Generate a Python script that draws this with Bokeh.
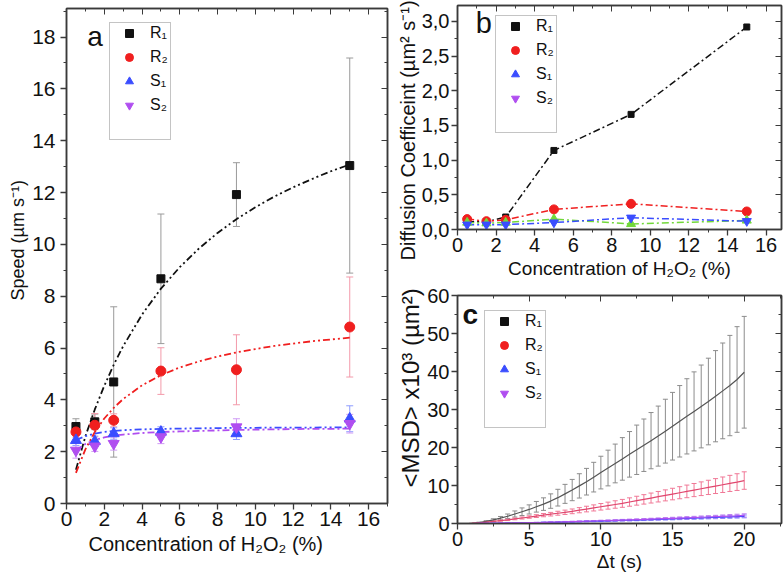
from bokeh.plotting import figure
from bokeh.models import (ColumnDataSource, Whisker, TeeHead, Legend, LegendItem, LinearAxis,
                          SingleIntervalTicker, Range1d, Label, Title, CustomJSTickFormatter)
from bokeh.layouts import row, column
from bokeh.embed import file_html
from bokeh.resources import INLINE

FONT = "Liberation Sans"
NAN = float("nan")

# ---------------- data: panel a (speed) ----------------
conc = [0.5, 1.5, 2.5, 5, 9, 15]
speed_R1 = [2.97, 3.15, 4.69, 8.67, 11.92, 13.04]
speed_R1_err = [0.30, 0.30, 2.90, 2.50, 1.23, 4.15]
speed_R2 = [2.76, 3.02, 3.21, 5.11, 5.16, 6.81]
speed_R2_err = [0.20, 0.45, 0.25, 0.90, 1.35, 1.93]
speed_S1 = [2.44, 2.40, 2.70, 2.76, 2.70, 3.27]
speed_S1_err = [0.20, 0.20, 0.22, 0.20, 0.23, 0.50]
speed_S2 = [2.05, 2.21, 2.31, 2.57, 2.95, 3.08]
speed_S2_err = [0.30, 0.20, 0.25, 0.26, 0.32, 0.36]

fit_x = [0.5, 1, 1.5, 2, 2.5, 3, 4, 5, 6, 7, 8, 9, 10, 11, 12, 13, 14, 15]
fit_R1 = [1.30, 2.59, 3.63, 4.54, 5.35, 6.07, 7.29, 8.29, 9.12, 9.83, 10.44, 10.97, 11.43, 11.84, 12.20, 12.52, 12.82, 13.08]
fit_R2 = [1.18, 2.09, 2.76, 3.28, 3.69, 4.03, 4.56, 4.95, 5.25, 5.48, 5.67, 5.83, 5.96, 6.08, 6.17, 6.26, 6.33, 6.40]
fit_S1 = [2.45, 2.60, 2.70, 2.76, 2.80, 2.83, 2.86, 2.88, 2.89, 2.90, 2.91, 2.92, 2.92, 2.93, 2.93, 2.93, 2.94, 2.94]
fit_S2 = [2.05, 2.30, 2.45, 2.55, 2.62, 2.66, 2.72, 2.76, 2.78, 2.80, 2.82, 2.84, 2.85, 2.86, 2.87, 2.88, 2.88, 2.89]

# ---------------- data: panel b (diffusion coefficient) ----------------
diff_R1 = [0.11, 0.11, 0.18, 1.14, 1.66, 2.92]
diff_R2 = [0.15, 0.12, 0.14, 0.29, 0.37, 0.26]
diff_S1 = [0.10, 0.09, 0.10, 0.15, 0.08, 0.13]
diff_S2 = [0.07, 0.07, 0.07, 0.10, 0.17, 0.12]

# ---------------- data: panel c (MSD) ----------------
msd_t = [0.5, 1.0, 1.5, 2.0, 2.5, 3.0, 3.5, 4.0, 4.5, 5.0,
         5.5, 6.0, 6.5, 7.0, 7.5, 8.0, 8.5, 9.0, 9.5, 10.0,
         10.5, 11.0, 11.5, 12.0, 12.5, 13.0, 13.5, 14.0, 14.5, 15.0,
         15.5, 16.0, 16.5, 17.0, 17.5, 18.0, 18.5, 19.0, 19.5, 20.0]
msd_R1 = [0.0, 0.05, 0.25, 0.55, 0.95, 1.4, 1.9, 2.5, 3.1, 3.7,
          4.4, 5.1, 5.9, 6.8, 7.8, 8.8, 9.9, 11.0, 12.2, 13.4,
          14.6, 15.8, 17.0, 18.2, 19.4, 20.6, 21.8, 23.0, 24.3, 25.6,
          26.9, 28.2, 29.5, 30.8, 32.1, 33.5, 34.9, 36.3, 37.9, 39.8]
msd_R1_err = [0.0, 0.02, 0.1, 0.2, 0.3, 0.45, 0.6, 0.8, 1.0, 1.2,
              1.4, 1.65, 1.9, 2.2, 2.5, 2.8, 3.2, 3.5, 3.9, 4.3,
              4.7, 5.1, 5.6, 6.0, 6.5, 6.9, 7.4, 7.9, 8.4, 8.9,
              9.4, 9.9, 10.4, 10.9, 11.4, 12.0, 12.6, 13.2, 13.9, 14.7]
msd_R2 = [0.0, 0.02, 0.15, 0.35, 0.55, 0.75, 0.95, 1.2, 1.45, 1.7,
          1.95, 2.2, 2.45, 2.7, 2.95, 3.2, 3.5, 3.8, 4.1, 4.4,
          4.7, 5.0, 5.3, 5.65, 6.0, 6.35, 6.7, 7.05, 7.4, 7.75,
          8.1, 8.45, 8.8, 9.15, 9.5, 9.85, 10.2, 10.55, 10.9, 11.3]
msd_R2_err = [0.0, 0.01, 0.04, 0.07, 0.1, 0.14, 0.18, 0.22, 0.27, 0.32,
              0.37, 0.42, 0.47, 0.52, 0.57, 0.62, 0.68, 0.74, 0.8, 0.86,
              0.92, 0.98, 1.04, 1.1, 1.17, 1.24, 1.31, 1.38, 1.45, 1.52,
              1.59, 1.66, 1.73, 1.8, 1.88, 1.96, 2.04, 2.12, 2.2, 2.3]
msd_S1 = [0.0, 0.0, 0.01, 0.03, 0.05, 0.07, 0.1, 0.13, 0.16, 0.19,
          0.23, 0.27, 0.31, 0.35, 0.4, 0.44, 0.49, 0.54, 0.59, 0.64,
          0.69, 0.74, 0.8, 0.85, 0.91, 0.97, 1.03, 1.09, 1.15, 1.21,
          1.27, 1.33, 1.39, 1.45, 1.52, 1.58, 1.65, 1.72, 1.79, 1.86]
msd_S1_err = [0.0, 0.0, 0.0, 0.01, 0.01, 0.02, 0.02, 0.03, 0.03, 0.04,
              0.05, 0.05, 0.06, 0.07, 0.08, 0.09, 0.1, 0.11, 0.12, 0.13,
              0.14, 0.15, 0.16, 0.17, 0.18, 0.19, 0.2, 0.22, 0.23, 0.24,
              0.25, 0.27, 0.28, 0.29, 0.3, 0.32, 0.33, 0.34, 0.36, 0.37]
msd_S2 = [0.0, 0.0, 0.02, 0.04, 0.06, 0.09, 0.12, 0.15, 0.18, 0.22,
          0.26, 0.3, 0.35, 0.4, 0.45, 0.5, 0.55, 0.6, 0.66, 0.72,
          0.78, 0.84, 0.9, 0.96, 1.02, 1.08, 1.15, 1.22, 1.29, 1.36,
          1.43, 1.5, 1.57, 1.64, 1.71, 1.79, 1.87, 1.95, 2.03, 2.12]
msd_S2_err = [0.0, 0.0, 0.0, 0.01, 0.01, 0.02, 0.02, 0.03, 0.04, 0.04,
              0.05, 0.06, 0.07, 0.08, 0.09, 0.1, 0.11, 0.12, 0.13, 0.14,
              0.16, 0.17, 0.18, 0.19, 0.2, 0.22, 0.23, 0.24, 0.26, 0.27,
              0.29, 0.3, 0.31, 0.33, 0.34, 0.36, 0.37, 0.39, 0.41, 0.42]

series_labels = ["R\u2081", "R\u2082", "S\u2081", "S\u2082"]

BLACK = "#111111"
RED = "#f01f1f"
BLUE = "#3a4dff"
PURPLE = "#b04ef0"
GREEN = "#72d83a"
FRAME = "#3a3a3a"
TEXT = "#111111"


def make_fig(width, height, xr, yr, xint, yint, borders, tick_size="20px",
             yformatter=None, ystandoff=2, xlabel=None, xlabel_standoff=2):
    p = figure(width=width, height=height, x_range=Range1d(*xr), y_range=Range1d(*yr),
               output_backend="svg", toolbar_location=None, tools="",
               min_border_left=borders[0], min_border_right=borders[1],
               min_border_top=borders[2], min_border_bottom=borders[3])
    p.grid.visible = False
    p.outline_line_color = FRAME
    p.outline_line_width = 1.5
    p.background_fill_color = "white"
    p.xaxis.ticker = SingleIntervalTicker(interval=xint, num_minor_ticks=2)
    p.yaxis.ticker = SingleIntervalTicker(interval=yint, num_minor_ticks=2)
    if yformatter is not None:
        p.yaxis.formatter = yformatter
    for ax in (p.xaxis, p.yaxis):
        ax.axis_line_color = FRAME
        ax.axis_line_width = 1.5
        ax.major_tick_line_color = FRAME
        ax.minor_tick_line_color = FRAME
        ax.major_tick_line_width = 1.3
        ax.major_tick_out = 6
        ax.major_tick_in = 0
        ax.minor_tick_out = 3
        ax.minor_tick_in = 0
        ax.major_label_text_font = FONT
        ax.major_label_text_font_size = tick_size
        ax.major_label_text_color = TEXT
        ax.major_label_standoff = 2
        ax.axis_label_text_font = FONT
        ax.axis_label_text_font_size = "19px"
        ax.axis_label_text_font_style = "normal"
        ax.axis_label_text_color = TEXT
        ax.axis_label_standoff = 2
    p.yaxis.major_label_standoff = ystandoff
    if xlabel:
        p.xaxis.axis_label = xlabel
        p.xaxis.axis_label_standoff = xlabel_standoff
    # mirrored axes with inward ticks (no labels)
    for side, interval in (("above", xint), ("right", yint)):
        ax = LinearAxis(ticker=SingleIntervalTicker(interval=interval, num_minor_ticks=2),
                        formatter=CustomJSTickFormatter(code="return ''"),
                        major_tick_in=6, major_tick_out=0, minor_tick_in=3, minor_tick_out=0,
                        major_label_text_font_size="1px", major_label_standoff=0,
                        axis_line_color=FRAME, axis_line_width=1.5,
                        major_tick_line_color=FRAME, minor_tick_line_color=FRAME)
        p.add_layout(ax, side)
    return p


def side_title(p, text, side, offset=0, standoff=0, size="19px"):
    t = Title(text=text, align="left", offset=offset, standoff=standoff,
              text_font=FONT, text_font_size=size, text_font_style="normal",
              text_color=TEXT)
    p.add_layout(t, side)


def errbars(p, x, y, e, color, head=7, width=1.0):
    src = ColumnDataSource(dict(base=x, upper=[a + b for a, b in zip(y, e)],
                                lower=[a - b for a, b in zip(y, e)]))
    w = Whisker(source=src, base="base", upper="upper", lower="lower",
                line_color=color, line_width=width, level="underlay",
                upper_head=TeeHead(size=head, line_color=color, line_width=width),
                lower_head=TeeHead(size=head, line_color=color, line_width=width))
    p.add_layout(w)


def add_legend(p, entries, loc):
    items = []
    for label, marker, color in entries:
        r = p.scatter(x=[NAN], y=[NAN], marker=marker, size=9, fill_color=color, line_color=color)
        items.append(LegendItem(label=label, renderers=[r]))
    blank = p.scatter(x=[NAN], y=[NAN], size=1, fill_alpha=0, line_alpha=0)
    items.append(LegendItem(label=" ", renderers=[blank]))
    lg = Legend(items=items, location=loc, orientation="vertical",
                border_line_color="#8a8a8a", border_line_width=1,
                background_fill_color="white", background_fill_alpha=1,
                label_text_font=FONT, label_text_font_size="16px",
                label_text_color=TEXT,
                glyph_width=38, glyph_height=20, label_height=20,
                spacing=4, padding=0, label_standoff=2, margin=0)
    p.add_layout(lg)


legend_entries = [(series_labels[0], "square", BLACK), (series_labels[1], "circle", RED),
                  (series_labels[2], "triangle", BLUE), (series_labels[3], "inverted_triangle", PURPLE)]

# ---------------- panel a ----------------
pa = make_fig(391, 576, (0, 17), (0, 19.1), 2, 2, (66, 4, 8, 73), tick_size="21px",
              ystandoff=5)
side_title(pa, "Speed (\u00b5m s\u207b\u00b9)", "left", offset=203, standoff=3, size="18px")
side_title(pa, "Concentration of H\u2082O\u2082 (%)", "below", offset=22, standoff=4, size="20px")
errbars(pa, conc, speed_R1, speed_R1_err, "#9a9a9a")
errbars(pa, conc, speed_R2, speed_R2_err, "#f39aaa")
errbars(pa, conc, speed_S1, speed_S1_err, "#8e9cff")
errbars(pa, conc, speed_S2, speed_S2_err, "#cf9af5")
pa.line(fit_x, fit_R1, line_color=BLACK, line_width=1.8, line_dash="7 3 2 3 2 3")
pa.line(fit_x, fit_R2, line_color=RED, line_width=1.8, line_dash="7 3 2 3 2 3")
pa.line(fit_x, fit_S1, line_color=BLUE, line_width=1.8, line_dash="7 3 2 3 2 3")
pa.line(fit_x, fit_S2, line_color=PURPLE, line_width=1.8, line_dash="7 3 2 3")
pa.scatter(conc, speed_R1, marker="square", size=8, fill_color=BLACK, line_color=BLACK)
pa.scatter(conc, speed_R2, marker="circle", size=10, fill_color=RED, line_color=RED)
pa.scatter(conc, speed_S1, marker="triangle", size=11, fill_color=BLUE, line_color=BLUE)
pa.scatter(conc, speed_S2, marker="inverted_triangle", size=11, fill_color=PURPLE, line_color=PURPLE)
add_legend(pa, legend_entries, (43, 363))
pa.add_layout(Label(x=1.1, y=17.42, text="a", text_font=FONT, text_font_size="28px",
                    text_color=TEXT))

# ---------------- panel b ----------------
comma_fmt = CustomJSTickFormatter(code="return tick.toFixed(1).replace('.', ',');")
pb = make_fig(393, 284, (0, 16.8), (0, 3.23), 2, 0.5, (66, 3, 5, 55), tick_size="20px",
              yformatter=comma_fmt, xlabel="Concentration of H\u2082O\u2082 (%)",
              xlabel_standoff=3)
side_title(pb, "Diffusion Coefficeint (\u00b5m\u00b2 s\u207b\u00b9)", "left", offset=-31,
           standoff=0, size="20px")
pb.line(conc, diff_R1, line_color=BLACK, line_width=1.5, line_dash="7 3 2 3")
pb.line(conc, diff_R2, line_color=RED, line_width=1.5, line_dash="7 3 2 3")
pb.line(conc, diff_S1, line_color=GREEN, line_width=1.5, line_dash="7 3 2 3")
pb.line(conc, diff_S2, line_color=BLUE, line_width=1.5, line_dash="7 3 2 3")
pb.scatter(conc, diff_R1, marker="square", size=6, fill_color=BLACK, line_color=BLACK)
pb.scatter(conc, diff_R2, marker="circle", size=9, fill_color=RED, line_color=RED)
pb.scatter(conc, diff_S1, marker="triangle", size=9, fill_color=GREEN, line_color=GREEN)
pb.scatter(conc, diff_S2, marker="inverted_triangle", size=9, fill_color=BLUE, line_color=BLUE)
add_legend(pb, legend_entries, (38, 96))
pb.add_layout(Label(x=0.95, y=2.74, text="b", text_font=FONT, text_font_size="29px",
                    text_color=TEXT))

# ---------------- panel c ----------------
pc = make_fig(393, 292, (0, 22.6), (0, 60), 5, 10, (66, 3, 11, 53), tick_size="20px",
              xlabel="\u0394t (s)")
side_title(pc, "<MSD> x10\u00b3 (\u00b5m\u00b2)", "left", offset=36, standoff=2, size="24px")
errbars(pc, msd_t, msd_R1, msd_R1_err, "#8c8c8c", head=5, width=1.0)
errbars(pc, msd_t, msd_R2, msd_R2_err, "#f07896", head=5, width=1.0)
errbars(pc, msd_t, msd_S1, msd_S1_err, "#7f88ff", head=5, width=1.0)
errbars(pc, msd_t, msd_S2, msd_S2_err, "#b878f0", head=5, width=1.0)
pc.line(msd_t, msd_R1, line_color="#555555", line_width=1.2)
pc.line(msd_t, msd_R2, line_color="#e0476e", line_width=1.2)
pc.line(msd_t, msd_S1, line_color=BLUE, line_width=1.2)
pc.line(msd_t, msd_S2, line_color=PURPLE, line_width=1.2)
add_legend(pc, legend_entries, (27, 95))
pc.add_layout(Label(x=0.35, y=50.9, text="c", text_font=FONT, text_font_size="28px",
                    text_font_style="bold", text_color=TEXT))

layout = row(pa, column(pb, pc))
open("out.html", "w").write(file_html(layout, INLINE))
